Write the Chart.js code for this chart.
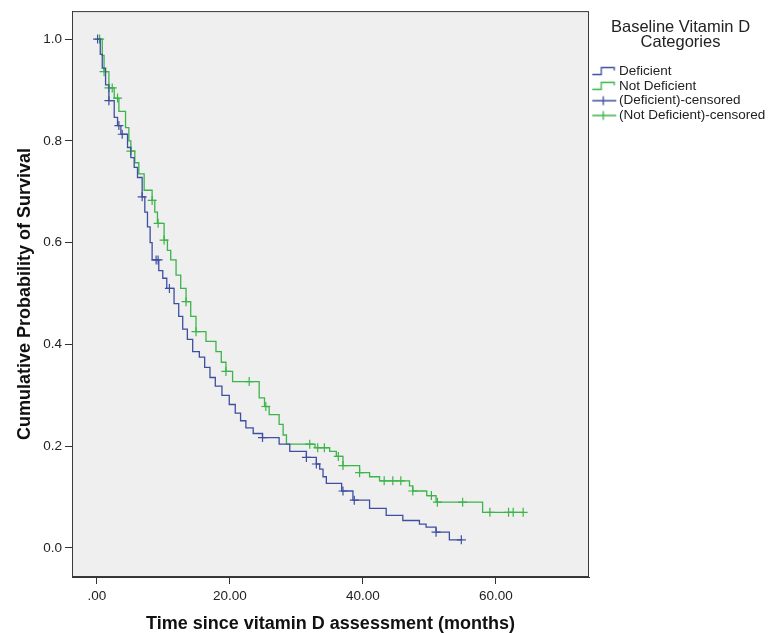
<!DOCTYPE html>
<html>
<head>
<meta charset="utf-8">
<title>Survie selon la vitamine D</title>
<script src="https://cdn.jsdelivr.net/npm/chart.js@4.4.1/dist/chart.umd.min.js"></script>
<style>
  body { margin: 0; background: #fff; }
  #wrap { position: relative; width: 772px; height: 633px; }
</style>
</head>
<body>
<div id="wrap"><canvas id="kmChart"></canvas></div>
<script>
// Données (temps en mois, survie cumulée)
const seriesNames = ['Deficient', 'Not Deficient', '(Deficient)-censored', '(Not Deficient)-censored'];

const defTime = [0.1, 0.5, 0.8, 1.3, 1.8, 2.6, 3.1, 3.6, 4.6, 5.1, 5.6, 6.1, 6.8, 7.2, 7.6, 8.0, 8.3, 9.3, 9.9, 10.5, 11.6, 12.3, 12.9, 13.6, 14.4, 15.4, 16.2, 17.0, 17.8, 18.8, 19.9, 20.8, 21.6, 22.4, 23.5, 24.9, 27.4, 29.0, 31.5, 33.0, 33.5, 34.0, 34.5, 36.8, 38.5, 41.0, 43.5, 46.0, 48.5, 49.5, 51.0, 53.0, 54.8];
const defSurv = [1.0, 0.97, 0.943, 0.91, 0.879, 0.846, 0.83, 0.813, 0.787, 0.767, 0.748, 0.728, 0.69, 0.66, 0.631, 0.60, 0.566, 0.545, 0.53, 0.51, 0.48, 0.455, 0.43, 0.41, 0.386, 0.375, 0.355, 0.335, 0.318, 0.30, 0.282, 0.265, 0.25, 0.236, 0.225, 0.217, 0.204, 0.19, 0.178, 0.165, 0.155, 0.14, 0.127, 0.112, 0.094, 0.078, 0.064, 0.054, 0.047, 0.041, 0.031, 0.016, 0.016];

const notDefTime = [0.3, 0.8, 1.07, 1.8, 2.6, 3.3, 4.3, 4.8, 5.1, 5.7, 6.3, 7.1, 8.3, 8.7, 9.1, 10.1, 10.6, 11.1, 11.9, 12.6, 13.4, 14.1, 14.9, 16.4, 17.9, 18.7, 19.4, 20.4, 24.4, 25.2, 25.9, 27.4, 28.0, 28.5, 32.8, 35.0, 36.0, 37.0, 39.5, 41.0, 42.5, 47.0, 47.5, 49.6, 51.0, 58.0, 64.1];
const notDefSurv = [1.0, 0.968, 0.936, 0.904, 0.884, 0.858, 0.826, 0.80, 0.78, 0.757, 0.735, 0.703, 0.683, 0.66, 0.638, 0.605, 0.585, 0.566, 0.536, 0.51, 0.484, 0.455, 0.425, 0.406, 0.386, 0.365, 0.347, 0.327, 0.295, 0.278, 0.262, 0.243, 0.222, 0.204, 0.197, 0.19, 0.18, 0.162, 0.148, 0.14, 0.132, 0.122, 0.112, 0.103, 0.09, 0.07, 0.07];

// Observations censurées
const defCensTime = [0.1, 1.8, 3.3, 3.8, 6.8, 8.9, 9.2, 10.9, 24.9, 31.5, 33.0, 37.0, 38.7, 51.0, 54.8];
const defCensSurv = [1.0, 0.879, 0.83, 0.813, 0.69, 0.566, 0.566, 0.51, 0.217, 0.178, 0.165, 0.112, 0.094, 0.031, 0.016];

const notDefCensTime = [0.4, 1.07, 1.8, 2.3, 3.1, 5.1, 8.3, 9.2, 10.1, 13.4, 14.9, 19.4, 22.9, 25.4, 32.0, 33.2, 34.2, 36.3, 37.0, 39.5, 43.2, 44.5, 45.7, 47.5, 50.3, 51.2, 55.0, 59.1, 61.9, 62.6, 64.1];
const notDefCensSurv = [1.0, 0.936, 0.904, 0.904, 0.884, 0.78, 0.683, 0.638, 0.605, 0.484, 0.425, 0.347, 0.327, 0.278, 0.204, 0.197, 0.197, 0.18, 0.162, 0.148, 0.132, 0.132, 0.132, 0.112, 0.103, 0.09, 0.09, 0.07, 0.07, 0.07, 0.07];

// Graduations
const xTicks = [0, 20, 40, 60];
const xTickLabels = ['.00', '20.00', '40.00', '60.00'];
const yTicks = [0, 0.2, 0.4, 0.6, 0.8, 1.0];
const yTickLabels = ['0.0', '0.2', '0.4', '0.6', '0.8', '1.0'];

const BLUE = '#3E4FA0';
const GREEN = '#3CB44A';

Chart.defaults.font.family = '"Liberation Sans", Arial, sans-serif';
Chart.defaults.color = '#222';

function toPoints(xs, ys) {
    return xs.map((x, i) => ({ x: x, y: ys[i] }));
}

// Petites icônes de légende façon SPSS (décalées un peu à droite dans leur canvas)
function stepIcon(color) {
    const c = document.createElement('canvas');
    c.width = 32; c.height = 12;
    const g = c.getContext('2d');
    g.strokeStyle = color; g.lineWidth = 1.3;
    g.beginPath();
    g.moveTo(7, 9.5); g.lineTo(16, 9.5); g.lineTo(16, 2.5); g.lineTo(29, 2.5); g.lineTo(29, 5.5);
    g.stroke();
    return c;
}
function censIcon(color) {
    const c = document.createElement('canvas');
    c.width = 32; c.height = 12;
    const g = c.getContext('2d');
    g.strokeStyle = color; g.lineWidth = 1.3;
    g.beginPath();
    g.moveTo(7, 6); g.lineTo(31, 6);
    g.moveTo(18, 1.5); g.lineTo(18, 10.5);
    g.stroke();
    return c;
}
const legendIcons = [stepIcon(BLUE), stepIcon(GREEN), censIcon(BLUE), censIcon(GREEN)];

// Fond gris et cadre de la zone de tracé
const plotFrame = {
    id: 'plotFrame',
    beforeDraw(chart) {
        const a = chart.chartArea;
        chart.ctx.save();
        chart.ctx.fillStyle = '#efefef';
        chart.ctx.fillRect(a.left, a.top, a.right - a.left, a.bottom - a.top);
        chart.ctx.restore();
    },
    afterDraw(chart) {
        const a = chart.chartArea;
        const ctx = chart.ctx;
        ctx.save();
        ctx.strokeStyle = '#3a3a3a';
        ctx.lineWidth = 1;
        ctx.strokeRect(a.left + 0.5, a.top + 0.5, a.right - a.left - 1, a.bottom - a.top - 1);
        ctx.restore();
    }
};

new Chart(document.getElementById('kmChart'), {
    type: 'line',
    data: {
        datasets: [
            {
                label: seriesNames[0],
                data: toPoints(defTime, defSurv),
                borderColor: BLUE,
                borderWidth: 1.3,
                stepped: 'before',
                pointRadius: 0,
                fill: false
            },
            {
                label: seriesNames[1],
                data: toPoints(notDefTime, notDefSurv),
                borderColor: GREEN,
                borderWidth: 1.3,
                stepped: 'before',
                pointRadius: 0,
                fill: false
            },
            {
                label: seriesNames[2],
                type: 'scatter',
                data: toPoints(defCensTime, defCensSurv),
                borderColor: BLUE,
                backgroundColor: BLUE,
                pointStyle: 'cross',
                pointRadius: 4.5,
                pointBorderWidth: 1.2,
                showLine: false
            },
            {
                label: seriesNames[3],
                type: 'scatter',
                data: toPoints(notDefCensTime, notDefCensSurv),
                borderColor: GREEN,
                backgroundColor: GREEN,
                pointStyle: 'cross',
                pointRadius: 4.5,
                pointBorderWidth: 1.2,
                showLine: false
            }
        ]
    },
    options: {
        responsive: true,
        maintainAspectRatio: false,
        animation: false,
        layout: { padding: { top: 8, left: 0, right: 0, bottom: 0 } },
        scales: {
            x: {
                type: 'linear',
                min: -3.75,
                max: 74,
                afterBuildTicks: s => { s.ticks = xTicks.map(v => ({ value: v })); },
                afterFit: s => { s.height = 56; },
                ticks: {
                    callback: (v, i) => xTickLabels[i],
                    font: { size: 13.5 },
                    color: '#222',
                    padding: 4,
                    maxRotation: 0
                },
                grid: { drawOnChartArea: false, drawTicks: true, tickLength: 7, color: '#333' },
                border: { display: true, color: '#333' },
                title: {
                    display: true,
                    text: 'Time since vitamin D assessment (months)',
                    font: { size: 18, weight: 'bold', lineHeight: 1 },
                    color: '#111',
                    padding: { top: 0, bottom: 0 }
                }
            },
            y: {
                min: -0.057,
                max: 1.055,
                afterBuildTicks: s => { s.ticks = yTicks.map(v => ({ value: v })); },
                afterFit: s => { s.width = 72; },
                ticks: {
                    callback: (v, i) => yTickLabels[i],
                    font: { size: 13.5 },
                    color: '#222',
                    padding: 3
                },
                grid: { drawOnChartArea: false, drawTicks: true, tickLength: 7, color: '#333' },
                border: { display: true, color: '#333' },
                title: {
                    display: true,
                    text: 'Cumulative Probability of Survival',
                    font: { size: 18, weight: 'bold' },
                    color: '#111',
                    padding: { top: 14, bottom: 0 }
                }
            }
        },
        plugins: {
            legend: {
                position: 'right',
                align: 'start',
                maxWidth: 183,
                title: {
                    display: true,
                    text: ['Baseline Vitamin D', 'Categories'],
                    font: { size: 16.5, lineHeight: '15px' },
                    color: '#222',
                    padding: { top: 11, bottom: 29 }
                },
                labels: {
                    usePointStyle: true,
                    pointStyleWidth: 22,
                    padding: 1.3,
                    font: { size: 13.5 },
                    color: '#222',
                    generateLabels: chart => Chart.defaults.plugins.legend.labels.generateLabels(chart)
                        .map((item, i) => Object.assign(item, { pointStyle: legendIcons[i] }))
                }
            },
            tooltip: { enabled: false }
        }
    },
    plugins: [plotFrame]
});
</script>
</body>
</html>
